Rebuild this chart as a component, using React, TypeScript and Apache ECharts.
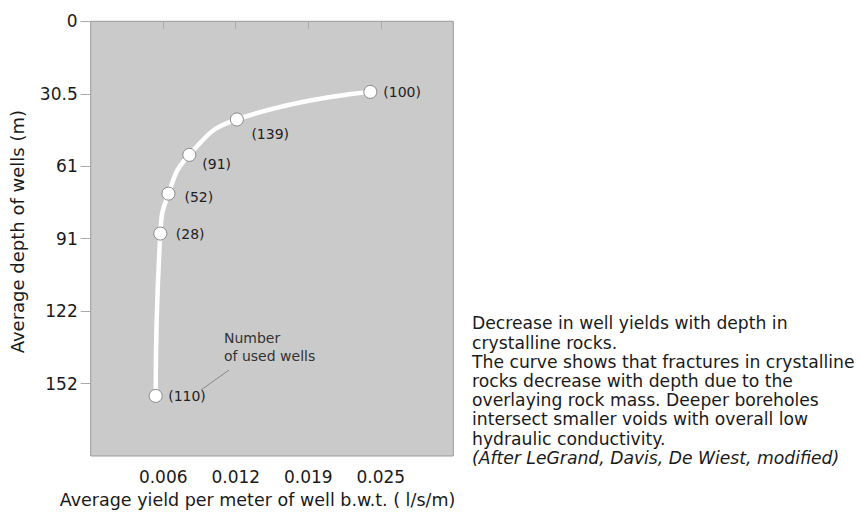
import React, { useEffect, useRef } from "react";
import * as echarts from "echarts";

// Average yield per metre of well (l/s/m) and average depth (m) for each group of wells
const yieldValues = [0.0241, 0.0126, 0.0085, 0.0067, 0.006, 0.0056];
const depthValues = [29.7, 41.3, 56.2, 72.5, 89.3, 157.6];
const wellCounts = [100, 139, 91, 52, 28, 110];

const xTickValues = [0.00625, 0.0125, 0.01875, 0.025];
const xTickLabels = ["0.006", "0.012", "0.019", "0.025"];
const xMax = 0.03125;

const yTickValues = [0, 30.48, 60.96, 91.44, 121.92, 152.4];
const yTickLabels = ["0", "30.5", "61", "91", "122", "152"];
const yMax = 182.88;

const xAxisTitle = "Average yield per meter of well b.w.t. ( l/s/m)";
const yAxisTitle = "Average depth of wells (m)";
const annotationLines = ["Number", "of used wells"];
const descriptionLines = [
  "Decrease in well yields with depth in",
  "crystalline rocks.",
  "The curve shows that fractures in crystalline",
  "rocks decrease with depth due to the",
  "overlaying rock mass. Deeper boreholes",
  "intersect smaller voids with overall low",
  "hydraulic conductivity.",
];
const sourceLine = "(After LeGrand, Davis, De Wiest, modified)";

const FONT = "DejaVu Sans";

function pick(values: number[], labels: string[], v: number) {
  const i = values.findIndex((t) => Math.abs(t - v) < 1e-6);
  return i >= 0 ? labels[i] : "";
}

export default function App() {
  const ref = useRef<HTMLDivElement>(null);
  useEffect(() => {
    if (!ref.current) return;
    const chart = echarts.init(ref.current, null, { renderer: "svg" });
    const labelOffsets = [
      [1, 0],
      [2.5, 15],
      [1, 9],
      [4, 3],
      [3.5, 0],
      [0.5, 0],
    ];
    const data = yieldValues.map((x, i) => ({
      value: [x, depthValues[i]],
      label: { offset: labelOffsets[i] },
    }));
    const graphic: any[] = [];
    annotationLines.forEach((t, i) => {
      graphic.push({
        type: "text",
        left: 224,
        top: 331 + i * 17.5,
        style: { text: t, font: `14px '${FONT}'`, fill: "#333" },
      });
    });
    graphic.push({
      type: "line",
      shape: { x1: 201, y1: 390, x2: 229, y2: 370 },
      style: { stroke: "#777", lineWidth: 0.8 },
    });
    descriptionLines.forEach((t, i) => {
      graphic.push({
        type: "text",
        x: 472,
        y: 323.3 + i * 19.2,
        style: {
          text: t,
          font: `17.2px '${FONT}'`,
          fill: "#1a1a1a",
          verticalAlign: "middle",
        },
      });
    });
    graphic.push({
      type: "text",
      x: 472,
      y: 323.3 + descriptionLines.length * 19.2,
      style: {
        text: sourceLine,
        font: `italic 17.2px '${FONT}'`,
        fill: "#1a1a1a",
        verticalAlign: "middle",
      },
    });

    chart.setOption({
      animation: false,
      backgroundColor: "#ffffff",
      textStyle: { fontFamily: FONT },
      grid: {
        left: 90.7,
        top: 21.3,
        right: 406.7,
        bottom: 51.3,
        show: true,
        backgroundColor: "#cacaca",
        borderColor: "#9a9a9a",
        borderWidth: 1,
      },
      xAxis: {
        type: "value",
        min: 0,
        max: xMax,
        axisLine: { show: false },
        splitLine: { show: false },
        axisTick: {
          show: true,
          length: 8,
          customValues: xTickValues,
          lineStyle: { color: "#aaa" },
        },
        axisLabel: {
          customValues: xTickValues,
          formatter: (v: number) => pick(xTickValues, xTickLabels, v),
          fontSize: 17,
          color: "#1a1a1a",
          margin: 12,
          fontFamily: FONT,
        },
        name: xAxisTitle,
        nameLocation: "middle",
        nameGap: 35,
        nameTextStyle: {
          fontSize: 17.5,
          color: "#1a1a1a",
          fontFamily: FONT,
          padding: [0, 29, 0, 0],
        },
      },
      yAxis: {
        type: "value",
        inverse: true,
        min: 0,
        max: yMax,
        axisLine: { show: false },
        splitLine: { show: false },
        axisTick: {
          show: true,
          length: 10,
          customValues: yTickValues,
          lineStyle: { color: "#aaa" },
        },
        axisLabel: {
          customValues: yTickValues,
          formatter: (v: number) => pick(yTickValues, yTickLabels, v),
          fontSize: 17,
          color: "#1a1a1a",
          margin: 13,
          fontFamily: FONT,
        },
        name: yAxisTitle,
        nameLocation: "middle",
        nameGap: 64,
        nameTextStyle: {
          fontSize: 18,
          color: "#1a1a1a",
          fontFamily: FONT,
          padding: [0, 0, 0, 14],
        },
      },
      series: [
        {
          type: "line",
          data,
          smooth: 0.5,
          symbol: "circle",
          symbolSize: 13,
          lineStyle: { color: "#ffffff", width: 4.5 },
          itemStyle: { color: "#ffffff", borderColor: "#888", borderWidth: 1 },
          label: {
            show: true,
            position: "right",
            distance: 5,
            fontSize: 14,
            color: "#222",
            fontFamily: FONT,
            formatter: (p: any) => `(${wellCounts[p.dataIndex]})`,
          },
          z: 3,
        },
      ],
      graphic,
    });
    return () => chart.dispose();
  }, []);
  return (
    <div
      ref={ref}
      style={{ position: "fixed", left: 0, top: 0, width: 860, height: 514 }}
    />
  );
}
